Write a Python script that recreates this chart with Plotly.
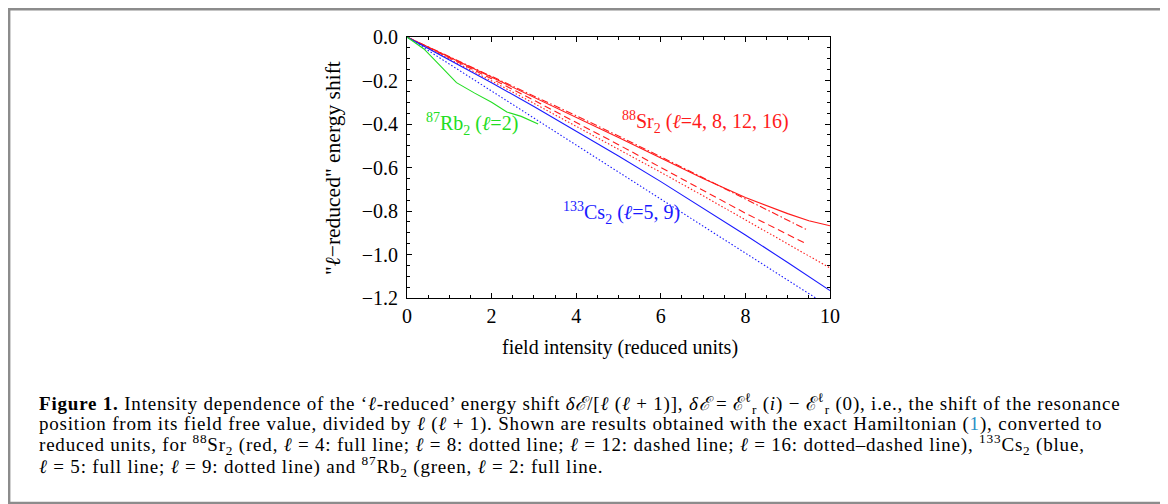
import plotly.graph_objects as go

# ---------------- data ----------------
x_main = [0, 1, 2, 3, 4, 5, 6, 7, 8, 9, 10]
sr_l4_x = [0, 1, 2, 3, 4, 5, 6, 7, 8, 9, 9.5, 10]
sr_l4_y = [0, -0.092, -0.184, -0.276, -0.368, -0.462, -0.556, -0.650, -0.738, -0.812, -0.845, -0.868]
sr_l8_y = [0, -0.100, -0.202, -0.305, -0.410, -0.515, -0.622, -0.730, -0.840, -0.950, -1.062]
sr_l12_x = [0, 1, 2, 3, 4, 5, 6, 7, 8, 9, 9.45]
sr_l12_y = [0, -0.095, -0.192, -0.291, -0.392, -0.495, -0.600, -0.705, -0.810, -0.908, -0.952]
sr_l16_x = [0, 1, 2, 3, 4, 5, 6, 7, 8, 9, 9.45]
sr_l16_y = [0, -0.090, -0.180, -0.270, -0.362, -0.455, -0.550, -0.647, -0.745, -0.843, -0.886]
cs_l5_y = [0, -0.104, -0.210, -0.320, -0.432, -0.547, -0.665, -0.786, -0.910, -1.037, -1.166]
cs_l9_y = [0, -0.124, -0.247, -0.371, -0.496, -0.622, -0.746, -0.870, -0.994, -1.118, -1.242]
rb_l2_x = [0, 0.4, 0.8, 1.17, 1.6, 2.0, 2.36, 2.7, 3.1]
rb_l2_y = [0, -0.055, -0.135, -0.210, -0.258, -0.300, -0.345, -0.365, -0.400]

x_ticks = [0, 2, 4, 6, 8, 10]
y_ticks = [0.0, -0.2, -0.4, -0.6, -0.8, -1.0, -1.2]

RED = "#ff1a1a"
BLUE = "#1a1aff"
GREEN = "#22dd22"
SERIF = "Liberation Serif, Times New Roman, serif"

fig = go.Figure()

def add(x, y, color, dash):
    fig.add_trace(go.Scatter(x=x, y=y, mode="lines",
                             line=dict(color=color, width=1.1, dash=dash),
                             showlegend=False, hoverinfo="skip"))

add(sr_l4_x, sr_l4_y, RED, "solid")
add(x_main, sr_l8_y, RED, "1.5px,2px")
add(sr_l12_x, sr_l12_y, RED, "7px,4px")
add(sr_l16_x, sr_l16_y, RED, "7px,2.5px,1.5px,2.5px")
add(x_main, cs_l5_y, BLUE, "solid")
add(x_main, cs_l9_y, BLUE, "1.5px,2px")
add(rb_l2_x, rb_l2_y, GREEN, "solid")

# page offset caused by the default 8px body margin of the html page
OFF = 8
# plot area in page pixels
L, R, T, B = 407, 830, 37, 298
PW, PH = 1168, 504
W, H = PW - OFF, PH - OFF
pw, ph = R - L, B - T

def px(xp):
    return (xp - L) / pw

def py(yp):
    return (B - yp) / ph

axis_common = dict(showline=True, linecolor="black", linewidth=1, mirror="ticks",
                   ticks="inside", tickcolor="black", ticklen=5, tickwidth=1,
                   showgrid=False, zeroline=False,
                   tickfont=dict(family=SERIF, size=20, color="black"))

fig.update_xaxes(range=[0, 10], tickvals=x_ticks, ticktext=[str(v) for v in x_ticks],
                 minor=dict(ticks="inside", ticklen=3, tickcolor="black", dtick=0.5, showgrid=False),
                 **axis_common)
fig.update_yaxes(range=[-1.2, 0], tickvals=y_ticks, tickformat=".1f", ticklabelstandoff=4,
                 minor=dict(ticks="inside", ticklen=3, tickcolor="black", dtick=0.05, showgrid=False),
                 **axis_common)

# axis titles
fig.add_annotation(x=px(620), y=py(347), xref="paper", yref="paper", xanchor="center", yanchor="middle",
                   text="field intensity (reduced units)", showarrow=False,
                   font=dict(family=SERIF, size=20, color="black"))
fig.add_annotation(x=px(333), y=py(168), xref="paper", yref="paper", xanchor="center", yanchor="middle",
                   text="\"<i>ℓ</i>−reduced\" energy shift", showarrow=False, textangle=-90,
                   font=dict(family=SERIF, size=21.5, color="black"))

annots = [
    dict(x=1.54, y=-0.40, text="<sup>87</sup>Rb<sub>2</sub> (<i>ℓ</i>=2)", color=GREEN),
    dict(x=7.05, y=-0.39, text="<sup>88</sup>Sr<sub>2</sub> (<i>ℓ</i>=4, 8, 12, 16)", color=RED),
    dict(x=5.06, y=-0.81, text="<sup>133</sup>Cs<sub>2</sub> (<i>ℓ</i>=5, 9)", color=BLUE),
]
for a in annots:
    fig.add_annotation(x=a["x"], y=a["y"], xref="x", yref="y", text=a["text"], showarrow=False,
                       font=dict(family=SERIF, size=20, color=a["color"]))

caption = [
    "<b>Figure 1.</b> Intensity dependence of the ‘<i>ℓ</i>-reduced’ energy shift <i>δℰ</i>/[<i>ℓ</i> (<i>ℓ</i> + 1)], "
    "<i>δℰ</i> = ℰ<sup>ℓ</sup><sub>r</sub> (<i>i</i>) − ℰ<sup>ℓ</sup><sub>r</sub> (0), i.e., the shift of the resonance",
    "position from its field free value, divided by <i>ℓ</i> (<i>ℓ</i> + 1). Shown are results obtained with the exact "
    "Hamiltonian (<span style='color:#2a8fc4'>1</span>), converted to",
    "reduced units, for <sup>88</sup>Sr<sub>2</sub> (red, <i>ℓ</i> = 4: full line; <i>ℓ</i> = 8: dotted line; "
    "<i>ℓ</i> = 12: dashed line; <i>ℓ</i> = 16: dotted–dashed line), <sup>133</sup>Cs<sub>2</sub> (blue,",
    "<i>ℓ</i> = 5: full line; <i>ℓ</i> = 9: dotted line) and <sup>87</sup>Rb<sub>2</sub> (green, <i>ℓ</i> = 2: full line.",
]
cap_y = [403, 424, 445, 466]
for txt, yy in zip(caption, cap_y):
    fig.add_annotation(x=px(38), y=py(yy), xref="paper", yref="paper", xanchor="left", yanchor="middle",
                       text="<span style='letter-spacing:0.8px'>" + txt + "</span>",
                       showarrow=False, align="left", borderpad=0,
                       font=dict(family=SERIF, size=19, color="black"))

# outer frame (as close to the page edge as the body margin allows)
fig.add_shape(type="rect", xref="paper", yref="paper",
              x0=px(OFF + 1.2), x1=px(1161.5), y0=py(503), y1=py(OFF + 1.2),
              line=dict(color="#8c8c8c", width=2.4), fillcolor="rgba(0,0,0,0)", layer="below")

fig.update_layout(width=W, height=H,
                  margin=dict(l=L - OFF, r=PW - R, t=T - OFF, b=PH - B),
                  paper_bgcolor="white", plot_bgcolor="white",
                  font=dict(family=SERIF, color="black"))

fig.write_html("out.html")
